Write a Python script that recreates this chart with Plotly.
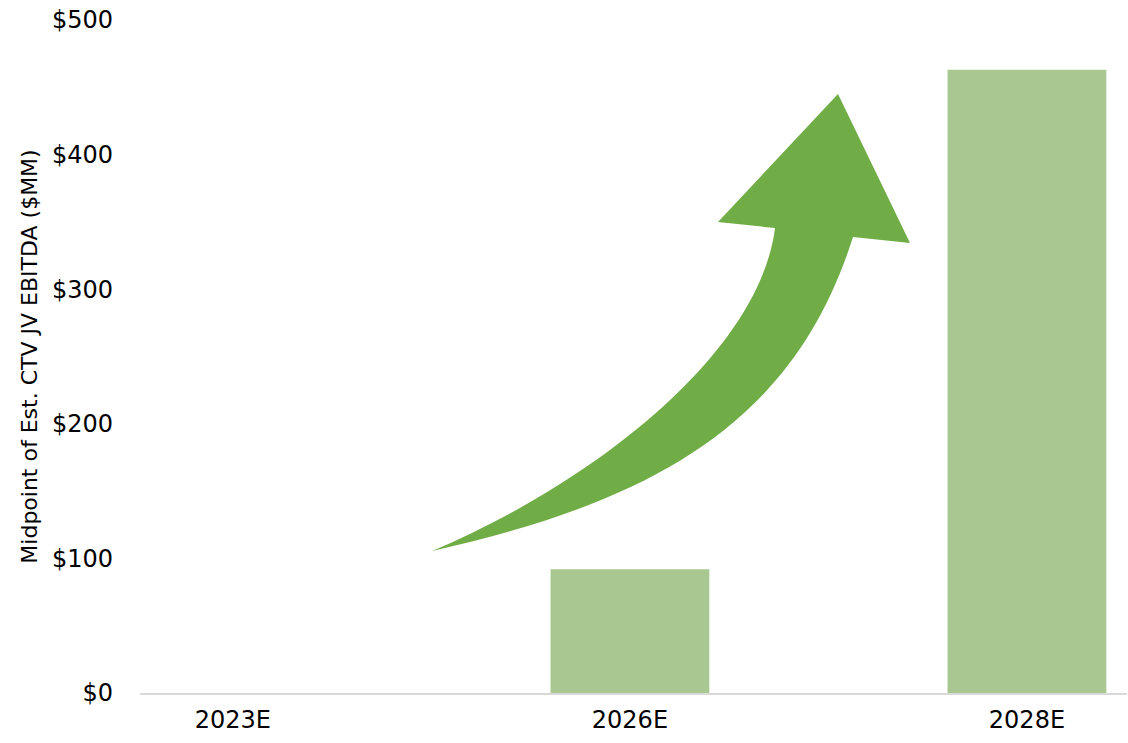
import plotly.graph_objects as go

categories = ["2023E", "2026E", "2028E"]
ebitda = [0, 92, 463]
y_ticks = [0, 100, 200, 300, 400, 500]
y_tick_labels = ["$0", "$100", "$200", "$300", "$400", "$500"]

W, H = 1128, 743
L, R, T, B = 140, 1, 20, 50
pw, ph = W - L - R, H - T - B


def pt(x, y):
    # x, y are pixel positions of the decorative arrow outline
    a = (x - L) / pw
    b = (H - B - y) / ph
    return f"{a:.5f},{b:.5f}"


arrow_path = (
    "M " + pt(432, 551)
    + " C " + pt(600, 480) + " " + pt(760, 350) + " " + pt(775, 228)
    + " L " + pt(718, 222)
    + " L " + pt(838, 94)
    + " L " + pt(910, 243)
    + " L " + pt(853, 237)
    + " C " + pt(795, 420) + " " + pt(660, 500) + " " + pt(432, 551)
    + " Z"
)

fig = go.Figure(
    go.Bar(
        x=categories,
        y=ebitda,
        marker=dict(color="#A8C791", line=dict(width=0)),
        width=0.40,
    )
)

fig.update_layout(
    width=W,
    height=H,
    margin=dict(l=L, r=R, t=T, b=B, autoexpand=False),
    plot_bgcolor="white",
    paper_bgcolor="white",
    showlegend=False,
    font=dict(family="DejaVu Sans, Verdana, sans-serif", size=24, color="#000000"),
    shapes=[
        dict(
            type="path",
            xref="paper",
            yref="paper",
            path=arrow_path,
            fillcolor="#70AD47",
            line=dict(width=0),
            layer="above",
        )
    ],
)

fig.update_xaxes(
    type="category",
    range=[-0.234, 2.252],
    automargin=False,
    showline=True,
    linecolor="#D9D9D9",
    linewidth=2,
    showgrid=False,
    ticks="",
    tickfont=dict(size=24),
    ticklabelstandoff=4,
)

fig.update_yaxes(
    range=[0, 500],
    automargin=False,
    tickvals=y_ticks,
    ticktext=y_tick_labels,
    showgrid=False,
    zeroline=False,
    showline=False,
    ticks="",
    ticklabelstandoff=26,
    ticklabeloverflow="allow",
    tickfont=dict(size=24),
    title=dict(
        text="Midpoint of Est. CTV JV EBITDA ($MM)",
        font=dict(family="DejaVu Sans, sans-serif", size=22),
        standoff=8,
    ),
)

fig.write_html(
    "out.html",
    config={"displayModeBar": False},
    post_script="document.body.style.margin='0';document.body.style.overflow='hidden';",
)
